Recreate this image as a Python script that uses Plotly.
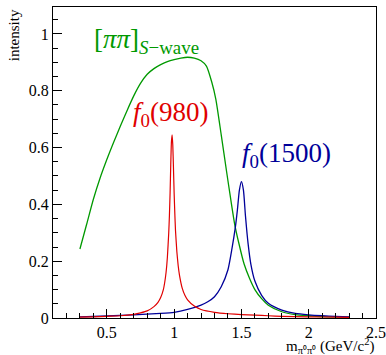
import plotly.graph_objects as go

# S-wave (green)
swave_x = [0.30, 0.35, 0.40, 0.45, 0.50, 0.55, 0.60, 0.65, 0.70, 0.75, 0.80, 0.85, 0.90, 0.95,
           1.00, 1.05, 1.10, 1.15, 1.20, 1.24, 1.28, 1.31, 1.35, 1.39, 1.42, 1.45, 1.48, 1.52,
           1.56, 1.60, 1.65, 1.70, 1.80, 1.90, 2.00, 2.10, 2.20, 2.30]
swave_y = [0.243, 0.330, 0.418, 0.493, 0.558, 0.618, 0.675, 0.730, 0.782, 0.826, 0.858, 0.878,
           0.892, 0.903, 0.910, 0.915, 0.918, 0.915, 0.906, 0.887, 0.830, 0.770, 0.645, 0.515,
           0.420, 0.330, 0.265, 0.190, 0.140, 0.100, 0.068, 0.045, 0.022, 0.012, 0.008, 0.005,
           0.004, 0.003]

# f0(980) (red)
f980_x = [0.30, 0.40, 0.50, 0.60, 0.70, 0.75, 0.80, 0.85, 0.88, 0.90, 0.92, 0.93, 0.94, 0.95,
          0.96, 0.965, 0.97, 0.975, 0.98, 0.985, 0.99, 0.995, 1.00, 1.005, 1.01, 1.02, 1.03,
          1.04, 1.06, 1.08, 1.10, 1.15, 1.20, 1.30, 1.40, 1.50, 1.60, 1.70, 1.80, 2.00, 2.20, 2.30]
f980_y = [0.003, 0.004, 0.006, 0.008, 0.013, 0.018, 0.025, 0.040, 0.055, 0.072, 0.100, 0.125,
          0.160, 0.215, 0.300, 0.360, 0.440, 0.540, 0.620, 0.645, 0.610, 0.530, 0.440, 0.370,
          0.310, 0.235, 0.185, 0.150, 0.105, 0.080, 0.064, 0.042, 0.030, 0.020, 0.015, 0.012,
          0.010, 0.008, 0.006, 0.004, 0.003, 0.002]

# f0(1500) (blue)
f1500_x = [0.30, 0.50, 0.70, 0.90, 1.00, 1.10, 1.20, 1.25, 1.30, 1.35, 1.40, 1.43, 1.455, 1.47,
           1.485, 1.50, 1.515, 1.53, 1.55, 1.57, 1.60, 1.65, 1.70, 1.80, 1.90, 2.00, 2.10,
           2.20, 2.30]
f1500_y = [0.004, 0.007, 0.011, 0.016, 0.020, 0.030, 0.045, 0.057, 0.075, 0.110, 0.170, 0.245,
           0.320, 0.380, 0.450, 0.480, 0.450, 0.360, 0.260, 0.190, 0.130, 0.080, 0.052, 0.028,
           0.016, 0.011, 0.008, 0.006, 0.004]

x_ticks = [0.5, 1, 1.5, 2, 2.5]
x_ticklabels = ["0.5", "1", "1.5", "2", "2.5"]
y_ticks = [0, 0.2, 0.4, 0.6, 0.8, 1]
y_ticklabels = ["0", "0.2", "0.4", "0.6", "0.8", "1"]

GREEN = "#009900"
RED = "#e00000"
BLUE = "#000099"
FONT = "Times New Roman, Liberation Serif, serif"

fig = go.Figure()
fig.add_trace(go.Scatter(x=swave_x, y=swave_y, mode="lines",
                         line=dict(color=GREEN, width=1.3, shape="spline", smoothing=0.6)))
fig.add_trace(go.Scatter(x=f1500_x, y=f1500_y, mode="lines",
                         line=dict(color=BLUE, width=1.3, shape="spline", smoothing=0.6)))
fig.add_trace(go.Scatter(x=f980_x, y=f980_y, mode="lines",
                         line=dict(color=RED, width=1.2, shape="spline", smoothing=0.4)))

axis_common = dict(showgrid=False, zeroline=False, showline=True, linecolor="black",
                   linewidth=1, mirror=True, ticks="inside", ticklen=9, tickcolor="black",
                   automargin=False,
                   tickfont=dict(family=FONT, size=16, color="black"))

fig.update_xaxes(range=[0.1, 2.5], tickvals=x_ticks, ticktext=x_ticklabels,
                 minor=dict(dtick=0.1, ticks="inside", ticklen=5, tickcolor="black", tick0=0),
                 **axis_common)
fig.update_yaxes(range=[0, 1.095], tickvals=y_ticks, ticktext=y_ticklabels,
                 minor=dict(dtick=0.05, ticks="inside", ticklen=5, tickcolor="black", tick0=0),
                 **axis_common)

annotations = [
    dict(x=0.39, y=0.975, xref="x", yref="y", xanchor="left", yanchor="middle",
         text="[<i>ππ</i>]<sub><i>S</i>−wave</sub>", showarrow=False,
         font=dict(family=FONT, size=27, color=GREEN)),
    dict(x=0.68, y=0.72, xref="x", yref="y", xanchor="left", yanchor="middle",
         text="<i>f</i><sub>0</sub>(980)", showarrow=False,
         font=dict(family=FONT, size=27, color=RED)),
    dict(x=1.49, y=0.575, xref="x", yref="y", xanchor="left", yanchor="middle",
         text="<i>f</i><sub>0</sub>(1500)", showarrow=False,
         font=dict(family=FONT, size=27, color=BLUE)),
    dict(x=-0.12, y=1.0, xref="paper", yref="paper", xanchor="center", yanchor="top",
         text="intensity", textangle=-90, showarrow=False,
         font=dict(family=FONT, size=15, color="black")),
    dict(x=1.0, y=-0.09, xref="paper", yref="paper", xanchor="right", yanchor="middle",
         text="m<sub>π⁰π⁰</sub> (GeV/c<sup>2</sup>)", showarrow=False,
         font=dict(family=FONT, size=15, color="black")),
]

fig.update_layout(width=386, height=355, margin=dict(l=53, r=10, t=7, b=37),
                  paper_bgcolor="white", plot_bgcolor="white", showlegend=False,
                  annotations=annotations)

fig.write_html("out.html", config={"displayModeBar": False},
               post_script="document.body.style.margin='0';")
